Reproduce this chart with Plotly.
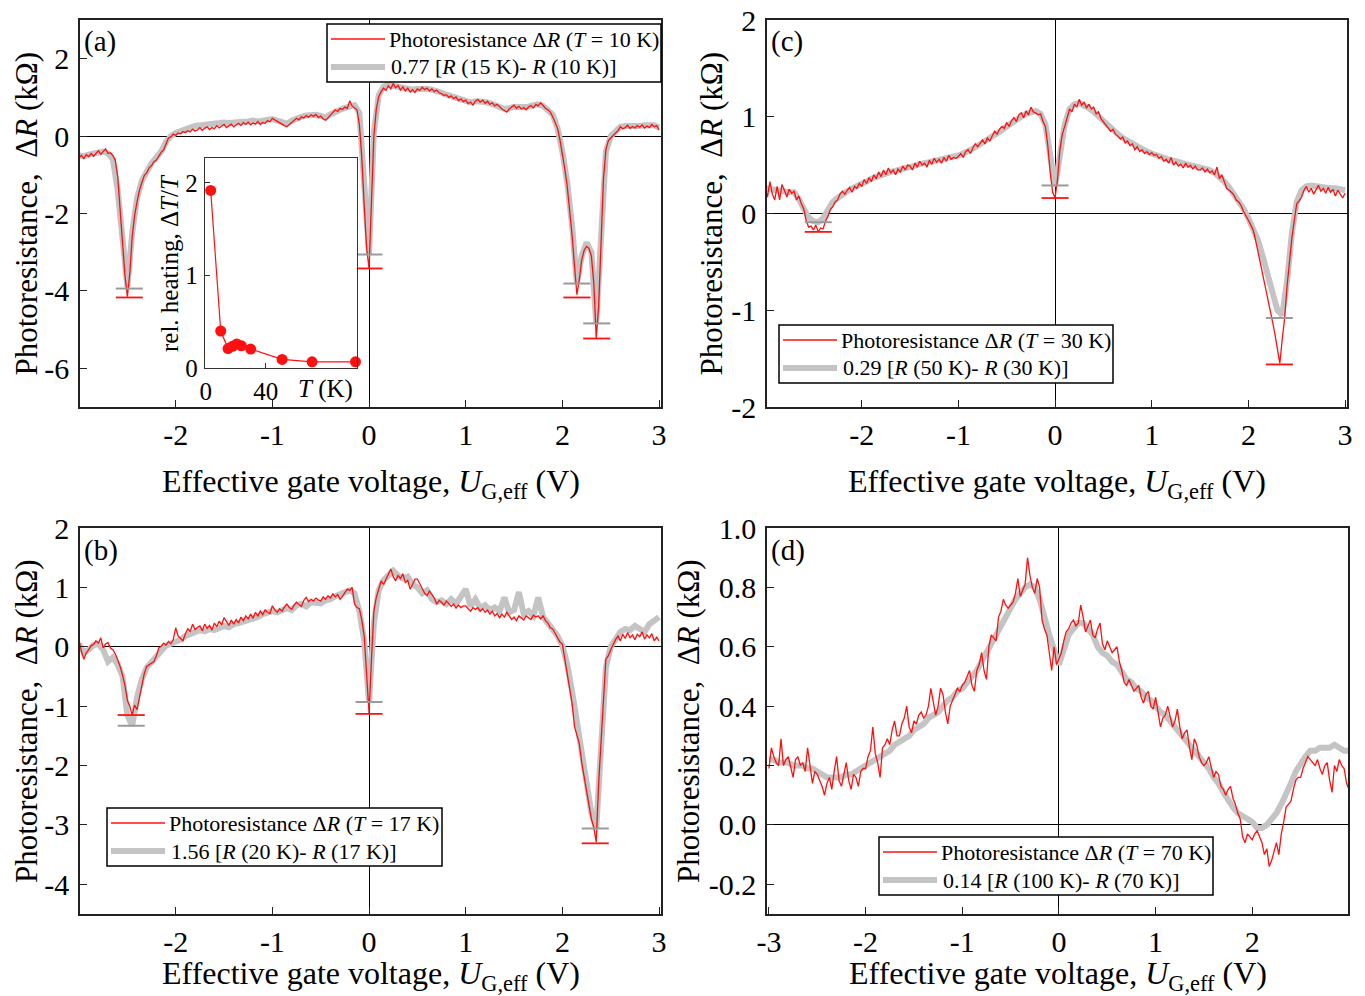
import numpy as np
import plotly.graph_objects as go

FONT = "Liberation Serif"
W, H = 1365, 996
RED = "#ff1010"
GRAY = "#c4c4c4"
CAP_GRAY = "#9a9a9a"

# ---------------------------------------------------------------------------
# gate-voltage sweeps (V): photoresistance on a 25 mV grid,
# scaled temperature differences R(T2) - R(T1) on a 50 mV grid
# ---------------------------------------------------------------------------
U_FINE = np.linspace(-3.0, 3.0, 241)
U_COARSE = np.linspace(-3.0, 3.0, 121)

# (a) photoresistance at T = 10 K (kOhm)
dR_10K = [
    -0.55, -0.50, -0.58, -0.48, -0.53, -0.45, -0.52, -0.44, -0.38, -0.47, -0.40, -0.33, -0.45, -0.43, -0.50, -0.62, -1.05, -1.85, -2.80, -3.60,
    -4.15, -3.55, -2.60, -2.05, -1.70, -1.40, -1.20, -1.02, -0.95, -0.82, -0.76, -0.66, -0.62, -0.50, -0.42, -0.36, -0.20, -0.05, -0.02, 0.05,
    0.02, 0.08, 0.06, 0.12, 0.09, 0.14, 0.11, 0.18, 0.13, 0.16, 0.22, 0.15, 0.20, 0.24, 0.17, 0.22, 0.19, 0.27, 0.21, 0.25,
    0.30, 0.22, 0.26, 0.31, 0.24, 0.29, 0.33, 0.27, 0.35, 0.30, 0.36, 0.29, 0.34, 0.31, 0.38, 0.30, 0.35, 0.33, 0.40, 0.37,
    0.46, 0.42, 0.38, 0.33, 0.30, 0.27, 0.24, 0.30, 0.36, 0.41, 0.46, 0.42, 0.50, 0.47, 0.53, 0.49, 0.55, 0.51, 0.56, 0.48,
    0.52, 0.45, 0.41, 0.47, 0.55, 0.61, 0.68, 0.64, 0.71, 0.69, 0.75, 0.72, 0.91, 0.78, 0.74, 0.68, 0.30, -0.55, -1.80, -2.90,
    -3.42, -1.70, 0.00, 0.70, 1.02, 1.15, 1.24, 1.18, 1.30, 1.22, 1.36, 1.25, 1.31, 1.19, 1.27, 1.17, 1.24, 1.14, 1.20, 1.13,
    1.22, 1.18, 1.26, 1.20, 1.24, 1.17, 1.22, 1.15, 1.19, 1.12, 1.10, 1.05, 1.07, 1.00, 1.04, 0.97, 1.01, 0.92, 0.96, 0.89,
    0.93, 0.84, 0.88, 0.80, 0.90, 0.95, 0.88, 0.93, 0.85, 0.90, 0.82, 0.86, 0.78, 0.82, 0.75, 0.70, 0.66, 0.62, 0.70, 0.75,
    0.80, 0.72, 0.77, 0.70, 0.74, 0.68, 0.75, 0.79, 0.73, 0.82, 0.78, 0.86, 0.79, 0.72, 0.68, 0.62, 0.50, 0.36, 0.20, -0.10,
    -0.45, -0.85, -1.30, -1.90, -2.55, -3.35, -4.10, -3.70, -3.20, -2.95, -2.85, -2.90, -3.10, -3.80, -5.22, -4.40, -2.90, -1.10, -0.35, -0.12,
    -0.05, 0.02, 0.08, 0.14, 0.24, 0.19, 0.22, 0.28, 0.20, 0.25, 0.21, 0.27, 0.23, 0.29, 0.21, 0.26, 0.22, 0.30, 0.24, 0.27,
    0.16,
]
# (a) 0.77 [R(15 K) - R(10 K)]
dRT_15_10 = [
    -0.50, -0.52, -0.48, -0.45, -0.42, -0.40, -0.45, -0.60, -1.40, -2.70,
    -3.90, -2.50, -1.60, -1.15, -0.88, -0.70, -0.55, -0.40, -0.15, 0.00,
    0.08, 0.14, 0.18, 0.22, 0.26, 0.28, 0.30, 0.32, 0.33, 0.34,
    0.35, 0.34, 0.36, 0.38, 0.37, 0.38, 0.40, 0.38, 0.39, 0.41,
    0.44, 0.40, 0.34, 0.32, 0.40, 0.46, 0.50, 0.53, 0.55, 0.55,
    0.52, 0.48, 0.56, 0.64, 0.68, 0.73, 0.78, 0.80, 0.60, -1.30,
    -3.06, 0.10, 1.05, 1.28, 1.33, 1.30, 1.27, 1.25, 1.22, 1.20,
    1.22, 1.23, 1.22, 1.20, 1.17, 1.12, 1.07, 1.03, 1.00, 0.95,
    0.90, 0.87, 0.90, 0.90, 0.88, 0.85, 0.80, 0.76, 0.70, 0.72,
    0.76, 0.75, 0.74, 0.76, 0.80, 0.82, 0.78, 0.68, 0.55, 0.20,
    -0.40, -1.20, -2.30, -3.81, -3.10, -2.75, -3.00, -4.84, -2.80, -0.40,
    0.00, 0.15, 0.24, 0.26, 0.25, 0.27, 0.26, 0.28, 0.27, 0.28,
    0.22,
]

# (b) photoresistance at T = 17 K
dR_17K = [
    0.12, -0.08, -0.21, -0.10, -0.05, 0.02, 0.04, 0.10, 0.06, 0.15, -0.02, 0.05, 0.07, -0.02, -0.05, -0.12, -0.22, -0.33, -0.48, -0.65,
    -0.90, -1.00, -1.15, -0.98, -1.06, -0.85, -0.67, -0.45, -0.33, -0.30, -0.27, -0.25, -0.15, -0.02, 0.01, 0.06, 0.03, 0.09, 0.05, 0.12,
    0.32, 0.18, 0.14, 0.10, 0.22, 0.30, 0.26, 0.38, 0.29, 0.33, 0.35, 0.27, 0.38, 0.31, 0.36, 0.28, 0.40, 0.34, 0.43, 0.37,
    0.49, 0.42, 0.36, 0.45, 0.38, 0.46, 0.40, 0.50, 0.44, 0.52, 0.47, 0.55, 0.48, 0.58, 0.52, 0.60, 0.54, 0.62, 0.58, 0.56,
    0.69, 0.62, 0.58, 0.64, 0.60, 0.67, 0.72, 0.66, 0.63, 0.70, 0.75, 0.71, 0.68, 0.78, 0.83, 0.76, 0.80, 0.77, 0.82, 0.79,
    0.77, 0.84, 0.80, 0.86, 0.82, 0.89, 0.84, 0.88, 0.80, 0.85, 0.92, 0.97, 0.95, 1.00, 0.72, 0.66, 0.64, 0.45, 0.18, -0.55,
    -1.12, -0.21, 0.60, 0.83, 0.98, 1.11, 1.05, 1.14, 1.20, 1.31, 1.18, 1.11, 1.20, 1.15, 1.23, 1.08, 1.12, 0.97, 1.05, 1.14,
    1.14, 1.05, 0.98, 0.90, 0.86, 0.94, 0.88, 0.82, 0.72, 0.78, 0.75, 0.70, 0.77, 0.73, 0.68, 0.72, 0.65, 0.70, 0.66, 0.69,
    0.69, 0.64, 0.60, 0.66, 0.63, 0.66, 0.60, 0.64, 0.58, 0.62, 0.55, 0.60, 0.52, 0.56, 0.49, 0.55, 0.50, 0.58, 0.52, 0.46,
    0.50, 0.44, 0.52, 0.48, 0.45, 0.52, 0.49, 0.46, 0.53, 0.50, 0.52, 0.47, 0.52, 0.44, 0.40, 0.32, 0.30, 0.22, 0.15, 0.08,
    0.04, -0.20, -0.40, -0.67, -0.95, -1.34, -1.50, -1.63, -1.95, -2.19, -2.45, -2.64, -2.90, -3.04, -3.29, -2.30, -1.50, -0.90, -0.21, -0.15,
    -0.05, 0.05, 0.12, 0.18, 0.10, 0.21, 0.14, 0.24, 0.15, 0.20, 0.12, 0.21, 0.17, 0.25, 0.13, 0.20, 0.15, 0.22, 0.10, 0.16,
    0.10,
]
# (b) 1.56 [R(20 K) - R(17 K)]
dRT_20_17 = [
    0.05, -0.10, -0.05, 0.03, 0.05, -0.05, -0.25, -0.18, -0.30, -0.50,
    -1.15, -1.33, -0.85, -0.55, -0.35, -0.25, -0.15, -0.05, 0.02, 0.05,
    0.08, 0.12, 0.18, 0.22, 0.25, 0.28, 0.26, 0.30, 0.28, 0.32,
    0.35, 0.33, 0.38, 0.40, 0.42, 0.45, 0.48, 0.50, 0.55, 0.58,
    0.60, 0.58, 0.62, 0.65, 0.62, 0.70, 0.72, 0.68, 0.75, 0.74,
    0.73, 0.78, 0.80, 0.85, 0.88, 0.92, 0.95, 0.90, 0.60, 0.10,
    -0.93, 0.40, 0.95, 1.12, 1.20, 1.28, 1.20, 1.15, 1.18, 1.05,
    1.00, 0.90, 0.95, 0.80, 0.75, 0.78, 0.72, 0.80, 0.72, 0.85,
    0.97, 0.68, 0.80, 0.65, 0.70, 0.62, 0.66, 0.60, 0.83, 0.58,
    0.62, 0.92, 0.55, 0.60, 0.52, 0.83, 0.50, 0.40, 0.30, 0.18,
    0.02, -0.30, -0.75, -1.30, -1.75, -2.30, -2.80, -3.06, -1.80, -0.35,
    0.00, 0.15, 0.25, 0.30, 0.28, 0.35, 0.30, 0.25, 0.38, 0.45,
    0.50,
]

# (c) photoresistance at T = 30 K
dR_30K = [
    0.28, 0.17, 0.33, 0.20, 0.14, 0.28, 0.14, 0.30, 0.24, 0.17, 0.25, 0.21, 0.23, 0.14, 0.18, 0.10, 0.05, -0.07, -0.14, -0.13,
    -0.17, -0.12, -0.19, -0.15, -0.16, -0.08, -0.03, 0.04, 0.07, 0.12, 0.14, 0.20, 0.23, 0.20, 0.24, 0.27, 0.22, 0.28, 0.26, 0.31,
    0.28, 0.35, 0.31, 0.37, 0.33, 0.40, 0.36, 0.43, 0.38, 0.45, 0.40, 0.47, 0.42, 0.45, 0.40, 0.46, 0.43, 0.49, 0.45, 0.50,
    0.49, 0.45, 0.52, 0.48, 0.54, 0.50, 0.52, 0.48, 0.55, 0.51, 0.57, 0.53, 0.56, 0.52, 0.58, 0.54, 0.60, 0.56, 0.58, 0.57,
    0.59, 0.62, 0.58, 0.64, 0.66, 0.62, 0.68, 0.72, 0.69, 0.73, 0.76, 0.72, 0.78, 0.75, 0.80, 0.85, 0.82, 0.87, 0.90, 0.88,
    0.94, 0.90, 0.96, 0.99, 0.95, 1.02, 1.04, 0.99, 1.06, 1.02, 1.10, 1.05, 1.04, 1.02, 1.03, 0.95, 0.90, 0.70, 0.42, 0.22,
    0.16, 0.35, 0.66, 0.82, 0.90, 1.00, 1.08, 1.05, 1.13, 1.10, 1.18, 1.12, 1.15, 1.09, 1.13, 1.08, 1.10, 1.03, 1.05, 0.98,
    0.95, 0.92, 0.88, 0.85, 0.87, 0.82, 0.80, 0.77, 0.79, 0.73, 0.75, 0.70, 0.72, 0.66, 0.69, 0.64, 0.66, 0.62, 0.64, 0.61,
    0.63, 0.60, 0.61, 0.57, 0.59, 0.54, 0.56, 0.52, 0.58, 0.50, 0.53, 0.49, 0.51, 0.47, 0.52, 0.48, 0.50, 0.46, 0.49, 0.45,
    0.45, 0.47, 0.43, 0.46, 0.42, 0.44, 0.40, 0.48, 0.36, 0.40, 0.33, 0.26, 0.24, 0.22, 0.19, 0.14, 0.12, 0.08, 0.02, -0.02,
    -0.07, -0.12, -0.17, -0.28, -0.40, -0.52, -0.63, -0.73, -0.85, -0.97, -1.12, -1.25, -1.38, -1.55, -1.30, -1.08, -0.75, -0.49, -0.25, -0.07,
    0.10, 0.13, 0.17, 0.24, 0.28, 0.22, 0.26, 0.20, 0.24, 0.29, 0.23, 0.26, 0.21, 0.27, 0.22, 0.25, 0.18, 0.24, 0.20, 0.16,
    0.21,
]
# (c) 0.29 [R(50 K) - R(30 K)]
dRT_50_30 = [
    0.26, 0.25, 0.24, 0.24, 0.23, 0.22, 0.22, 0.15, 0.05, -0.04,
    -0.08, -0.09, -0.05, 0.05, 0.12, 0.16, 0.20, 0.23, 0.26, 0.28,
    0.30, 0.33, 0.36, 0.38, 0.40, 0.42, 0.43, 0.44, 0.46, 0.47,
    0.48, 0.50, 0.51, 0.52, 0.53, 0.54, 0.55, 0.56, 0.57, 0.58,
    0.60, 0.62, 0.64, 0.67, 0.70, 0.73, 0.76, 0.79, 0.82, 0.86,
    0.90, 0.94, 0.97, 1.00, 1.03, 1.05, 1.06, 1.03, 0.92, 0.60,
    0.28, 0.60, 0.92, 1.08, 1.13, 1.14, 1.12, 1.09, 1.05, 1.00,
    0.95, 0.90, 0.86, 0.82, 0.78, 0.75, 0.72, 0.69, 0.66, 0.64,
    0.62, 0.60, 0.58, 0.56, 0.55, 0.54, 0.52, 0.51, 0.50, 0.49,
    0.48, 0.46, 0.45, 0.42, 0.38, 0.33, 0.27, 0.20, 0.13, 0.05,
    -0.05, -0.15, -0.28, -0.45, -0.65, -0.85, -1.00, -1.05, -0.70, -0.20,
    0.12, 0.24, 0.28, 0.29, 0.28, 0.27, 0.27, 0.26, 0.26, 0.25,
    0.24,
]

# (d) photoresistance at T = 70 K
dR_70K = [
    0.19, 0.26, 0.23, 0.21, 0.20, 0.29, 0.20, 0.22, 0.23, 0.19, 0.16, 0.22, 0.23, 0.20, 0.21, 0.18, 0.26, 0.20, 0.14, 0.18,
    0.17, 0.15, 0.13, 0.10, 0.14, 0.16, 0.12, 0.18, 0.23, 0.15, 0.13, 0.17, 0.21, 0.15, 0.12, 0.17, 0.16, 0.13, 0.18, 0.19,
    0.19, 0.23, 0.25, 0.33, 0.24, 0.21, 0.16, 0.26, 0.27, 0.29, 0.27, 0.32, 0.35, 0.30, 0.30, 0.34, 0.36, 0.40, 0.33, 0.31,
    0.35, 0.34, 0.37, 0.38, 0.36, 0.37, 0.40, 0.46, 0.41, 0.37, 0.40, 0.46, 0.44, 0.38, 0.34, 0.40, 0.42, 0.44, 0.46, 0.45,
    0.47, 0.48, 0.50, 0.52, 0.47, 0.45, 0.52, 0.54, 0.58, 0.52, 0.49, 0.60, 0.64, 0.63, 0.62, 0.70, 0.72, 0.76, 0.74, 0.73,
    0.74, 0.75, 0.78, 0.83, 0.77, 0.79, 0.81, 0.90, 0.84, 0.80, 0.78, 0.83, 0.80, 0.69, 0.66, 0.64, 0.57, 0.52, 0.60, 0.54,
    0.56, 0.58, 0.62, 0.65, 0.66, 0.68, 0.69, 0.67, 0.68, 0.74, 0.70, 0.65, 0.67, 0.69, 0.64, 0.63, 0.66, 0.68, 0.61, 0.59,
    0.62, 0.60, 0.58, 0.59, 0.60, 0.55, 0.52, 0.48, 0.47, 0.49, 0.47, 0.45, 0.46, 0.47, 0.43, 0.41, 0.44, 0.45, 0.40, 0.39,
    0.43, 0.38, 0.33, 0.36, 0.37, 0.40, 0.36, 0.33, 0.35, 0.39, 0.33, 0.29, 0.31, 0.32, 0.26, 0.22, 0.29, 0.27, 0.23, 0.21,
    0.20, 0.21, 0.23, 0.19, 0.16, 0.18, 0.17, 0.13, 0.12, 0.10, 0.12, 0.13, 0.09, 0.07, 0.04, 0.02, -0.04, -0.06, -0.03, -0.04,
    -0.05, -0.03, -0.02, -0.04, -0.06, -0.10, -0.08, -0.14, -0.12, -0.09, -0.06, -0.10, -0.03, 0.01, 0.06, 0.07, 0.08, 0.12, 0.15, 0.16,
    0.16, 0.19, 0.21, 0.23, 0.22, 0.21, 0.20, 0.22, 0.19, 0.17, 0.20, 0.21, 0.15, 0.11, 0.20, 0.18, 0.22, 0.20, 0.19, 0.14,
    0.12,
]
# (d) 0.14 [R(100 K) - R(70 K)]
dRT_100_70 = [
    0.22, 0.22, 0.21, 0.21, 0.21, 0.20, 0.20, 0.20, 0.19, 0.19,
    0.18, 0.17, 0.16, 0.16, 0.16, 0.16, 0.17, 0.17, 0.18, 0.19,
    0.20, 0.21, 0.22, 0.23, 0.24, 0.25, 0.27, 0.28, 0.29, 0.30,
    0.32, 0.33, 0.34, 0.36, 0.37, 0.38, 0.40, 0.42, 0.43, 0.45,
    0.46, 0.48, 0.50, 0.52, 0.55, 0.58, 0.62, 0.65, 0.68, 0.71,
    0.74, 0.76, 0.78, 0.80, 0.81, 0.80, 0.76, 0.69, 0.64, 0.59,
    0.54, 0.59, 0.64, 0.66, 0.68, 0.68, 0.66, 0.64, 0.60, 0.58,
    0.57, 0.55, 0.54, 0.51, 0.49, 0.48, 0.46, 0.45, 0.43, 0.42,
    0.40, 0.38, 0.37, 0.35, 0.33, 0.31, 0.29, 0.27, 0.25, 0.23,
    0.21, 0.19, 0.16, 0.14, 0.11, 0.08, 0.06, 0.04, 0.03, 0.02,
    0.01, -0.01, -0.01, 0.00, 0.02, 0.04, 0.07, 0.10, 0.14, 0.18,
    0.21, 0.23, 0.25, 0.25, 0.26, 0.26, 0.26, 0.27, 0.26, 0.25,
    0.25,
]

# minima markers: gate voltage of each dip and the levels of the two curves
dips_a_u = [-2.48, 0.0, 2.15, 2.355]
dips_a_red = [-4.17, -3.42, -4.17, -5.23]
dips_a_gray = [-3.94, -3.06, -3.81, -4.84]
dips_b_u = [-2.46, 0.0, 2.34]
dips_b_red = [-1.15, -1.13, -3.31]
dips_b_gray = [-1.33, -0.93, -3.06]
dips_c_u = [-2.45, 0.0, 2.32]
dips_c_red = [-0.19, 0.16, -1.56]
dips_c_gray = [-0.09, 0.29, -1.08]

# inset: relative heating vs temperature
inset_T = [3.3, 10, 14.9, 17.8, 20.7, 23.8, 30, 51, 71, 100]
inset_heating = [1.92, 0.40, 0.21, 0.235, 0.26, 0.24, 0.205, 0.093, 0.067, 0.067]

# labels
panel_tags = ["(a)", "(c)", "(b)", "(d)"]
red_names = [
    "Photoresistance Δ<i>R</i> (<i>T</i> = 10 K)",
    "Photoresistance Δ<i>R</i> (<i>T</i> = 30 K)",
    "Photoresistance Δ<i>R</i> (<i>T</i> = 17 K)",
    "Photoresistance Δ<i>R</i> (<i>T</i> = 70 K)",
]
gray_names = [
    "0.77 [<i>R</i> (15 K)- <i>R</i> (10 K)]",
    "0.29 [<i>R</i> (50 K)- <i>R</i> (30 K)]",
    "1.56 [<i>R</i> (20 K)- <i>R</i> (17 K)]",
    "0.14 [<i>R</i> (100 K)- <i>R</i> (70 K)]",
]
x_title = "Effective gate voltage, <i>U</i><sub>G,eff</sub> (V)"
y_title = "Photoresistance,\u00a0 Δ<i>R</i> (kΩ)"

# ---------------------------------------------------------------------------
# panel geometry (pixels on the 1365 x 996 page)
# ---------------------------------------------------------------------------
panels = [
    dict(ax="", box=(80, 661, 20, 407), xr=[-2.99, 3.02], yr=[-7, 3],
         yt=[-6, -4, -2, 0, 2], xt=[-2, -1, 0, 1, 2, 3],
         red=dR_10K, gray=dRT_15_10, dips=(dips_a_u, dips_a_red, dips_a_gray),
         leg=(327, 24, 334), ytitle_x=26, xtitle_y=483),
    dict(ax="2", box=(767, 1347, 20, 407), xr=[-2.98, 3.02], yr=[-2, 2],
         yt=[-2, -1, 0, 1, 2], xt=[-2, -1, 0, 1, 2, 3],
         red=dR_30K, gray=dRT_50_30, dips=(dips_c_u, dips_c_red, dips_c_gray),
         leg=(779, 325, 334), ytitle_x=711, xtitle_y=483),
    dict(ax="3", box=(80, 661, 528, 914), xr=[-2.99, 3.02], yr=[-4.5, 2],
         yt=[-4, -3, -2, -1, 0, 1, 2], xt=[-2, -1, 0, 1, 2, 3],
         red=dR_17K, gray=dRT_20_17, dips=(dips_b_u, dips_b_red, dips_b_gray),
         leg=(107, 808, 335), ytitle_x=26, xtitle_y=975),
    dict(ax="4", box=(767, 1348, 528, 914), xr=[-3.02, 2.99], yr=[-0.3, 1.0],
         yt=[-0.2, 0.0, 0.2, 0.4, 0.6, 0.8, 1.0], xt=[-3, -2, -1, 0, 1, 2],
         red=dR_70K, gray=dRT_100_70, dips=None,
         leg=(879, 837, 334), ytitle_x=688, xtitle_y=975),
]


def fx(px):
    return px / W


def fy(py):
    return 1 - py / H


def tick_text(vals, decimals=0):
    return [f"{v:.{decimals}f}" for v in vals]


def cap_path(centers, levels, half=0.14):
    xs, ys = [], []
    for c, v in zip(centers, levels):
        xs += [c - half, c + half, None]
        ys += [v, v, None]
    return xs, ys


fig = go.Figure()
shapes = []
annotations = []
layout = dict(
    width=W, height=H, margin=dict(l=0, r=0, t=0, b=0),
    paper_bgcolor="white", plot_bgcolor="white",
    font=dict(family=FONT, size=28, color="black"),
    showlegend=False,
)

axis_common = dict(
    showline=True, linecolor="#222", linewidth=1.5, mirror=True,
    showgrid=False, ticks="inside", ticklen=7, tickwidth=1.2, tickcolor="#222",
    tickfont=dict(family=FONT, size=30, color="black"),
    zeroline=True, zerolinecolor="black", zerolinewidth=1.4,
    tickmode="array", automargin=False,
)


def text_note(text, x, y, size, xanchor="left", angle=0):
    return dict(text=text, xref="paper", yref="paper", x=x, y=y,
                xanchor=xanchor, yanchor="middle", textangle=angle,
                showarrow=False, font=dict(family=FONT, size=size, color="black"))


for i, p in enumerate(panels):
    a = p["ax"]
    xa, ya = "x" + a, "y" + a
    x0, x1, y0, y1 = p["box"]
    dec = 1 if a == "4" else 0

    layout["xaxis" + a] = dict(
        axis_common, domain=[fx(x0), fx(x1)], range=p["xr"], anchor=ya,
        tickvals=p["xt"], ticktext=tick_text(p["xt"]), ticklabelstandoff=0,
    )
    layout["yaxis" + a] = dict(
        axis_common, domain=[fy(y1), fy(y0)], range=p["yr"], anchor=xa,
        tickvals=p["yt"], ticktext=tick_text(p["yt"], dec), ticklabelstandoff=3,
    )

    # scaled R(T2)-R(T1): thick gray band under the photoresistance trace
    fig.add_trace(go.Scatter(
        x=U_COARSE, y=p["gray"], xaxis=xa, yaxis=ya, mode="lines",
        line=dict(color=GRAY, width=6), name=gray_names[i],
    ))
    fig.add_trace(go.Scatter(
        x=U_FINE, y=p["red"], xaxis=xa, yaxis=ya, mode="lines",
        line=dict(color=RED, width=1.3), name=red_names[i],
    ))

    if p["dips"] is not None:
        du, dred, dgray = p["dips"]
        gx, gy = cap_path(du, dgray)
        rx, ry = cap_path(du, dred)
        fig.add_trace(go.Scatter(x=gx, y=gy, xaxis=xa, yaxis=ya, mode="lines",
                                 line=dict(color=CAP_GRAY, width=2), hoverinfo="skip"))
        fig.add_trace(go.Scatter(x=rx, y=ry, xaxis=xa, yaxis=ya, mode="lines",
                                 line=dict(color=RED, width=1.8), hoverinfo="skip"))

    # boxed key: red photoresistance line and thick gray difference line
    lx, ly, lw = p["leg"]
    shapes.append(dict(type="rect", xref="paper", yref="paper",
                       x0=fx(lx), x1=fx(lx + lw), y0=fy(ly + 58), y1=fy(ly),
                       fillcolor="white", line=dict(color="black", width=1.5)))
    shapes.append(dict(type="line", xref="paper", yref="paper",
                       x0=fx(lx + 4), x1=fx(lx + 58), y0=fy(ly + 15), y1=fy(ly + 15),
                       line=dict(color=RED, width=1.4)))
    shapes.append(dict(type="line", xref="paper", yref="paper",
                       x0=fx(lx + 4), x1=fx(lx + 58), y0=fy(ly + 43), y1=fy(ly + 43),
                       line=dict(color=GRAY, width=6)))
    annotations.append(text_note(red_names[i], fx(lx + 60), fy(ly + 15), 22))
    annotations.append(text_note(gray_names[i], fx(lx + 62), fy(ly + 43), 22))

    # panel tag and axis titles
    annotations.append(text_note(panel_tags[i], fx(x0 + 2), fy(y0 + 22), 29))
    annotations.append(text_note(x_title, fx((x0 + x1) / 2), fy(p["xtitle_y"]), 32,
                                 xanchor="center"))
    annotations.append(text_note(y_title, fx(p["ytitle_x"]), fy((y0 + y1) / 2), 31,
                                 xanchor="center", angle=-90))

# inset in panel (a): relative heating vs temperature
fig.add_trace(go.Scatter(
    x=inset_T, y=inset_heating, xaxis="x5", yaxis="y5", mode="lines+markers",
    line=dict(color=RED, width=1.2), marker=dict(color=RED, size=11),
    cliponaxis=False,
))
inset_axis = dict(
    showline=True, linecolor="#333", linewidth=1.3, mirror=True,
    showgrid=False, zeroline=False, ticks="inside", ticklen=5, tickwidth=1,
    tickcolor="#333", tickfont=dict(family=FONT, size=25, color="black"),
    tickmode="array", automargin=False, ticklabelstandoff=1,
)
inset_xt = [0, 40]
inset_yt = [0, 1, 2]
layout["xaxis5"] = dict(inset_axis, domain=[fx(205), fx(357)], range=[-0.5, 101],
                        anchor="y5", tickvals=inset_xt, ticktext=tick_text(inset_xt))
layout["yaxis5"] = dict(inset_axis, domain=[fy(368), fy(158)], range=[0, 2.27],
                        anchor="x5", tickvals=inset_yt, ticktext=tick_text(inset_yt))
annotations.append(text_note("<i>T</i> (K)", fx(325), fy(389), 25, xanchor="center"))
annotations.append(text_note("rel. heating, Δ<i>T</i>/<i>T</i>", fx(170), fy(263), 25,
                             xanchor="center", angle=-90))

layout["shapes"] = shapes
layout["annotations"] = annotations
fig.update_layout(**layout)
fig.write_html("out.html")
